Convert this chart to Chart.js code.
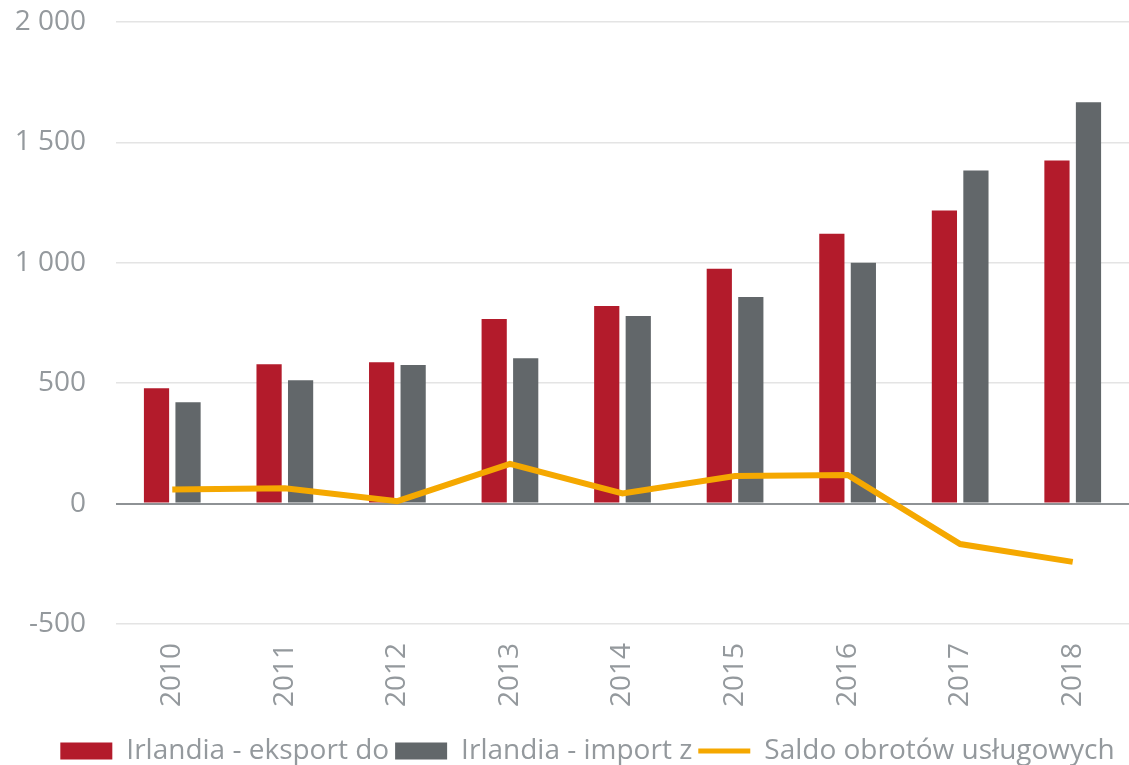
<!DOCTYPE html>
<html>
<head>
<meta charset="utf-8">
<script src="https://cdn.jsdelivr.net/npm/chart.js@4"></script>
<style>
  html, body { margin: 0; padding: 0; background: #ffffff; }
  #wrap { width: 1129px; height: 765px; position: relative; }
</style>
</head>
<body>
<div id="wrap"><canvas id="c"></canvas></div>
<script>
const categories = ['2010', '2011', '2012', '2013', '2014', '2015', '2016', '2017', '2018'];
const exportValues = [479, 579, 587, 767, 821, 975, 1121, 1217, 1425];
const importValues = [421, 512, 575, 604, 779, 858, 1000, 1383, 1667];
const balanceValues = [58, 64, 10, 165, 42, 114, 119, -168, -242];
const seriesNames = ['Irlandia - eksport do', 'Irlandia - import z', 'Saldo obrotów usługowych'];
const yTicks = [-500, 0, 500, 1000, 1500, 2000];

const FONT = "'Open Sans', 'DejaVu Sans', sans-serif";
const TEXT = '#94999d';
const LEGEND_SHIFT = 23;

function fmt(v) {
  const s = Math.abs(v).toString().replace(/\B(?=(\d{3})+(?!\d))/g, ' ');
  return (v < 0 ? '-' : '') + s;
}

const legendShift = {
  id: 'legendShift',
  afterLayout(chart) {
    if (chart.legend) {
      chart.legend.left += LEGEND_SHIFT;
      chart.legend.right += LEGEND_SHIFT;
    }
  }
};

new Chart(document.getElementById('c'), {
  data: {
    labels: categories,
    datasets: [
      { type: 'line', label: seriesNames[2], data: balanceValues, borderColor: '#f5a800', backgroundColor: '#f5a800',
        borderWidth: 6, pointRadius: 0, tension: 0, order: 0 },
      { type: 'bar', label: seriesNames[0], data: exportValues, backgroundColor: '#b31b2b', order: 1,
        categoryPercentage: 0.56, barPercentage: 0.8 },
      { type: 'bar', label: seriesNames[1], data: importValues, backgroundColor: '#62676a', order: 1,
        categoryPercentage: 0.56, barPercentage: 0.8 }
    ]
  },
  plugins: [legendShift],
  options: {
    responsive: true,
    maintainAspectRatio: false,
    animation: false,
    layout: { padding: { left: 0, right: 0, top: 22, bottom: -10 } },
    scales: {
      x: {
        grid: { display: false },
        border: { display: false },
        afterFit: (axis) => { axis.height = axis.height + 13; },
        ticks: { color: TEXT, font: { family: FONT, size: 28 }, minRotation: 90, maxRotation: 90, padding: 11 }
      },
      y: {
        min: -500, max: 2000,
        afterBuildTicks: (axis) => { axis.ticks = yTicks.map(v => ({ value: v })); },
        afterFit: (axis) => { axis.width = 116; },
        border: { display: false },
        grid: {
          drawTicks: true,
          tickLength: 30,
          tickColor: 'rgba(0,0,0,0)',
          color: (ctx) => ctx.tick && ctx.tick.value === 0 ? '#8e9295' : '#e4e4e4',
          lineWidth: (ctx) => ctx.tick && ctx.tick.value === 0 ? 2 : 1.5
        },
        ticks: { color: TEXT, font: { family: FONT, size: 28 }, padding: 0, callback: (v) => fmt(v) }
      }
    },
    plugins: {
      tooltip: { enabled: false },
      legend: {
        position: 'bottom',
        labels: {
          color: TEXT,
          font: { family: FONT, size: 28 },
          usePointStyle: true,
          pointStyleWidth: 52,
          boxHeight: 17,
          padding: 6,
          generateLabels: (chart) => {
            const ds = chart.data.datasets;
            return [1, 2, 0].map(i => ({
              text: ds[i].label,
              datasetIndex: i,
              fillStyle: ds[i].type === 'line' ? 'rgba(0,0,0,0)' : ds[i].backgroundColor,
              strokeStyle: ds[i].type === 'line' ? ds[i].borderColor : ds[i].backgroundColor,
              lineWidth: ds[i].type === 'line' ? 5 : 0,
              pointStyle: ds[i].type === 'line' ? 'line' : 'rect',
              fontColor: TEXT,
              hidden: false
            }));
          }
        }
      }
    }
  }
});
</script>
</body>
</html>
